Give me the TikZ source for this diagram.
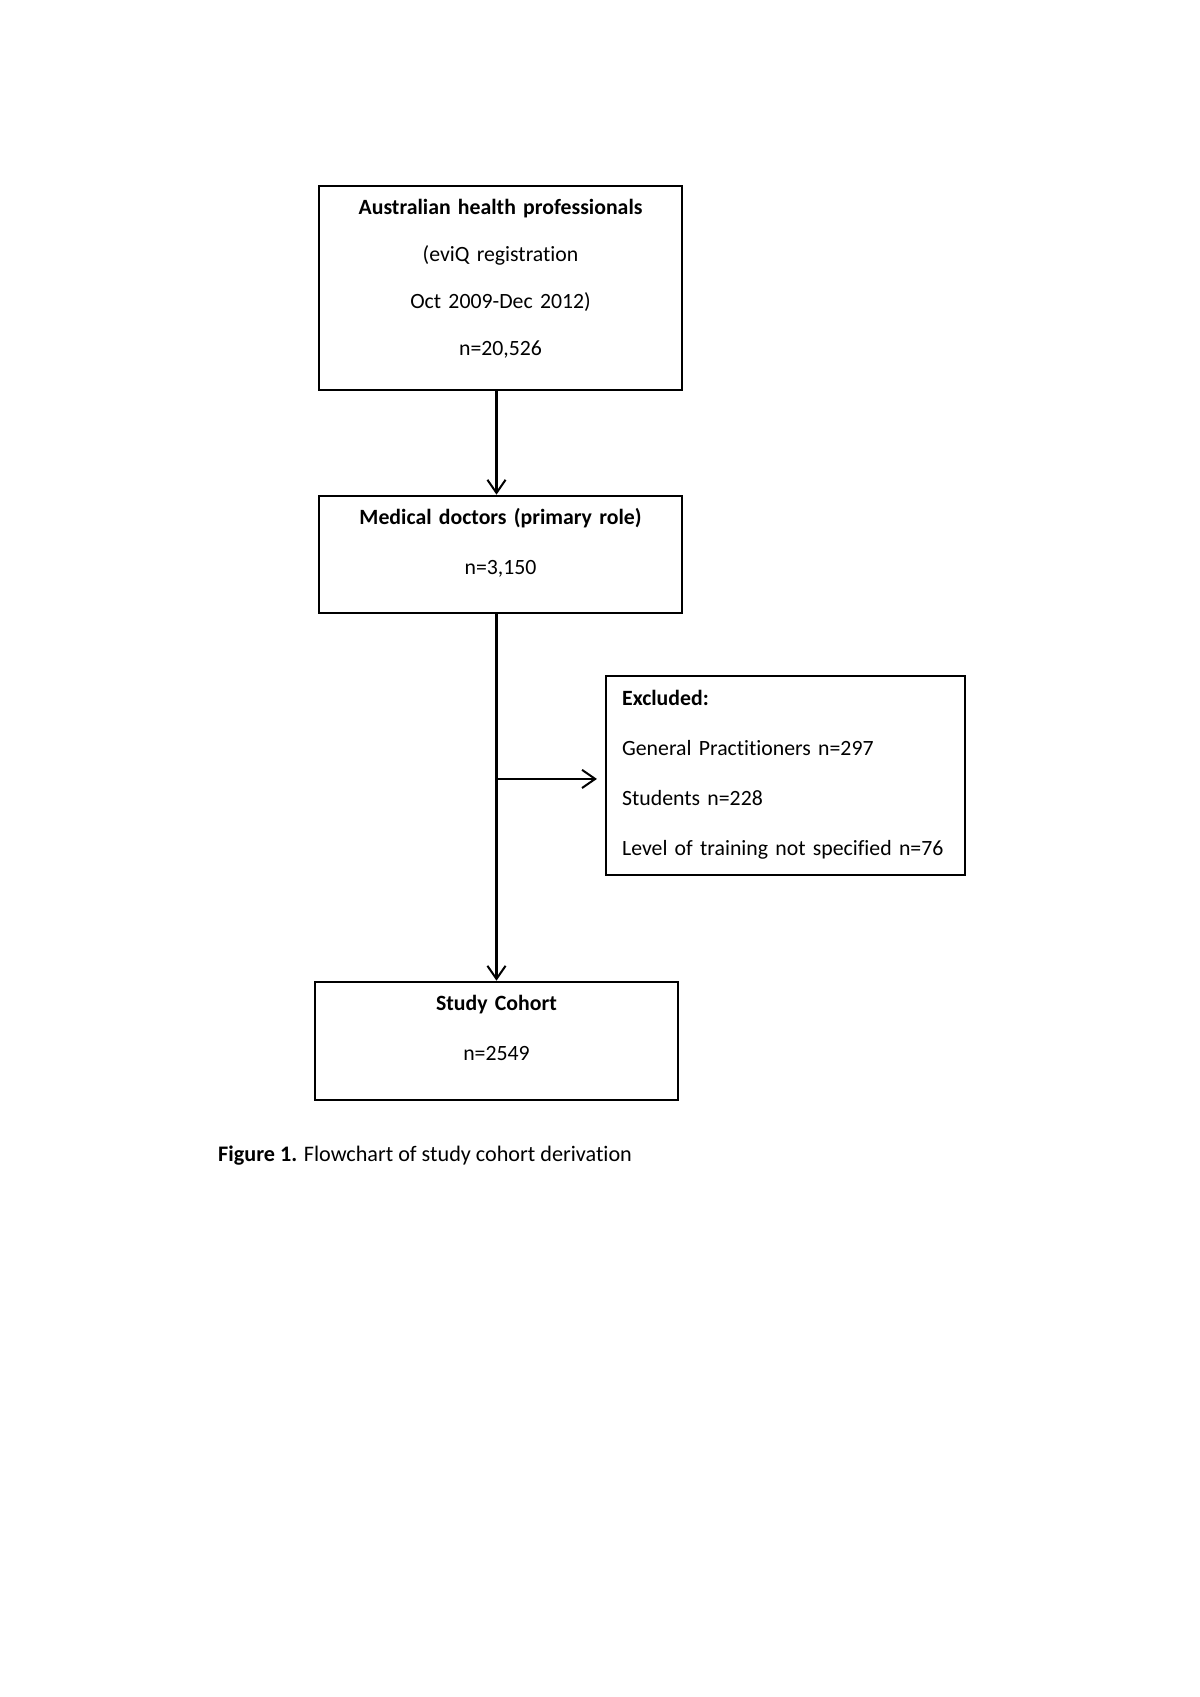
\documentclass[tikz,border=0pt]{standalone}
\usepackage{fontspec}
\setmainfont{Carlito}[Ligatures=NoCommon]
\usetikzlibrary{arrows.meta, positioning}

\begin{document}
\begin{tikzpicture}[
    box/.style={rectangle, draw, line width=1pt, inner xsep=0pt, inner ysep=0pt,
      text width=180pt, align=center, text height=14.4pt,
      font=\fontsize{10.8}{24.8}\selectfont},
    exclbox/.style={box, text width=162pt, inner xsep=8pt, align=left, text height=14.4pt},
    arrow/.style={-{Straight Barb[length=6.5pt, width=9pt, line width=1pt]}, line width=1pt}
]
\useasboundingbox (0,0) rectangle (595pt,-841.5pt);

\node[box, text depth=86.7pt, font=\fontsize{10.8}{23.3}\selectfont, anchor=north] (source) at (248.2pt,-91.7pt)
  {\textbf{Australian health professionals}\\(eviQ registration\\Oct 2009-Dec 2012)\\n=20,526};
\node[box, text depth=43.6pt, below=51.5pt of source] (doctors)
  {\textbf{Medical doctors (primary role)}\\n=3,150};
\node[box, text depth=44.1pt, below=182pt of doctors, xshift=-2pt] (cohort)
  {\textbf{Study Cohort}\\n=2549};
\node[exclbox, text depth=84.3pt, anchor=north west] (excluded) at (300pt,-334.7pt)
  {\textbf{Excluded:}\\General Practitioners n=297\\Students n=228\\Level of training not specified n=76};

\node[anchor=base west, inner sep=0pt, font=\fontsize{11}{13}\selectfont] (caption) at (108pt,-576pt)
  {\textbf{Figure 1.} Flowchart of study cohort derivation};

\coordinate (branch) at ([yshift=-1.7pt]cohort.north |- excluded.west);

\draw[arrow] (source.south -| cohort.north) -- (doctors.north -| cohort.north);
\draw[arrow] (doctors.south -| cohort.north) -- (cohort.north);
\draw[arrow, shorten >=4pt] (branch) -- (branch -| excluded.west);
\end{tikzpicture}
\end{document}
